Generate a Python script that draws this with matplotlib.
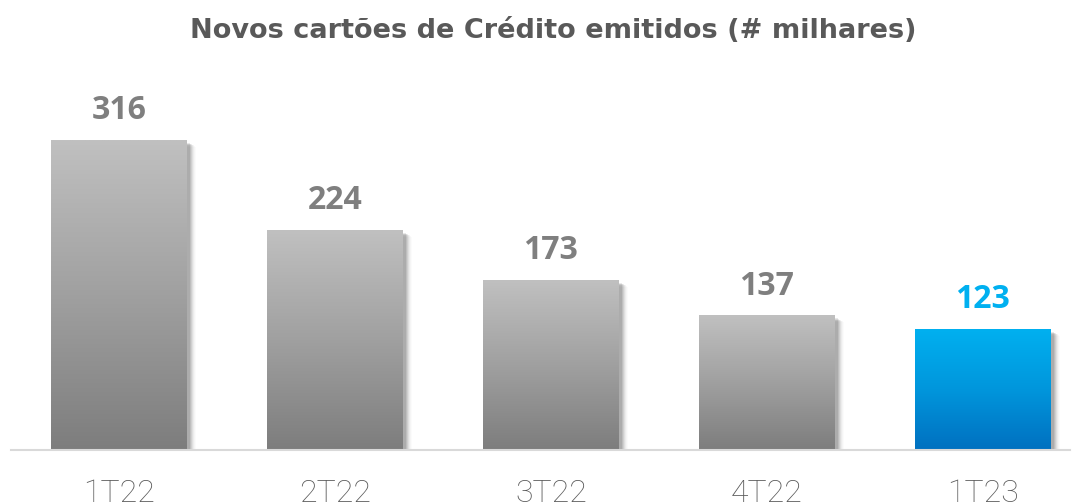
import matplotlib
matplotlib.use("Agg")
import matplotlib.pyplot as plt
import numpy as np
from matplotlib.colors import LinearSegmentedColormap
from matplotlib.patches import Rectangle

categories = ["1T22", "2T22", "3T22", "4T22", "1T23"]
values = [316, 224, 173, 137, 123]
highlight = [False, False, False, False, True]
title = "Novos cartões de Crédito emitidos (# milhares)"

W, H = 1078, 504
fig = plt.figure(figsize=(W / 100, H / 100), dpi=100)
ax = fig.add_axes([11 / W, 54 / H, 1059 / W, 392 / H])
xmin, xmax = -0.5, 4.403
ymin, ymax = 0, 400
ax.set_xlim(xmin, xmax)
ax.set_ylim(ymin, ymax)
ax.axis("off")

px_x = (xmax - xmin) / 1059
px_y = (ymax - ymin) / 392

gray_cmap = LinearSegmentedColormap.from_list("g", ["#7d7d7d", "#a0a0a0", "#c0c0c0"])
blue_cmap = LinearSegmentedColormap.from_list("b", ["#0070c0", "#0096dc", "#00b0f0"])
grad = np.linspace(0, 1, 256).reshape(-1, 1)

bw = 136 * px_x
for i, (c, v, hl) in enumerate(zip(categories, values, highlight)):
    x0 = i - bw / 2
    # shadow
    for k, a in zip(range(1, 8), [0.09, 0.08, 0.065, 0.05, 0.035, 0.025, 0.015]):
        ax.add_patch(Rectangle((x0 + 2 * px_x, -k * px_y * 0.6), bw + (k * 1.0) * px_x, v - 2 * px_y,
                               facecolor="black", alpha=a, edgecolor="none", zorder=1))
    cmap = blue_cmap if hl else gray_cmap
    ax.imshow(grad, cmap=cmap, extent=[x0, x0 + bw, 0, v], origin="lower",
              aspect="auto", zorder=3, interpolation="bilinear")
    col = "#00b0f0" if hl else "#7f7f7f"
    ax.text(i, v + 13 * px_y, str(v), ha="center", va="bottom", fontsize=23,
            fontweight="bold", color=col, family=["Open Sans", "DejaVu Sans"], zorder=5)
    ax.text(i, -29 * px_y, c, ha="center", va="top", fontsize=23, fontweight="light",
            color="#595959", family=["Roboto", "Open Sans", "DejaVu Sans"], zorder=5)

ax.set_xlim(xmin, xmax)
ax.set_ylim(ymin, ymax)
ax.plot([xmin, xmax], [0, 0], color="#d9d9d9", lw=1.5, zorder=4, clip_on=False)

fig.text(553 / W, 1 - 31 / H, title, ha="center", va="center", fontsize=19.5,
         fontweight="bold", color="#595959", family=["DejaVu Sans"])

fig.savefig("out.png", dpi=100, facecolor="white")
